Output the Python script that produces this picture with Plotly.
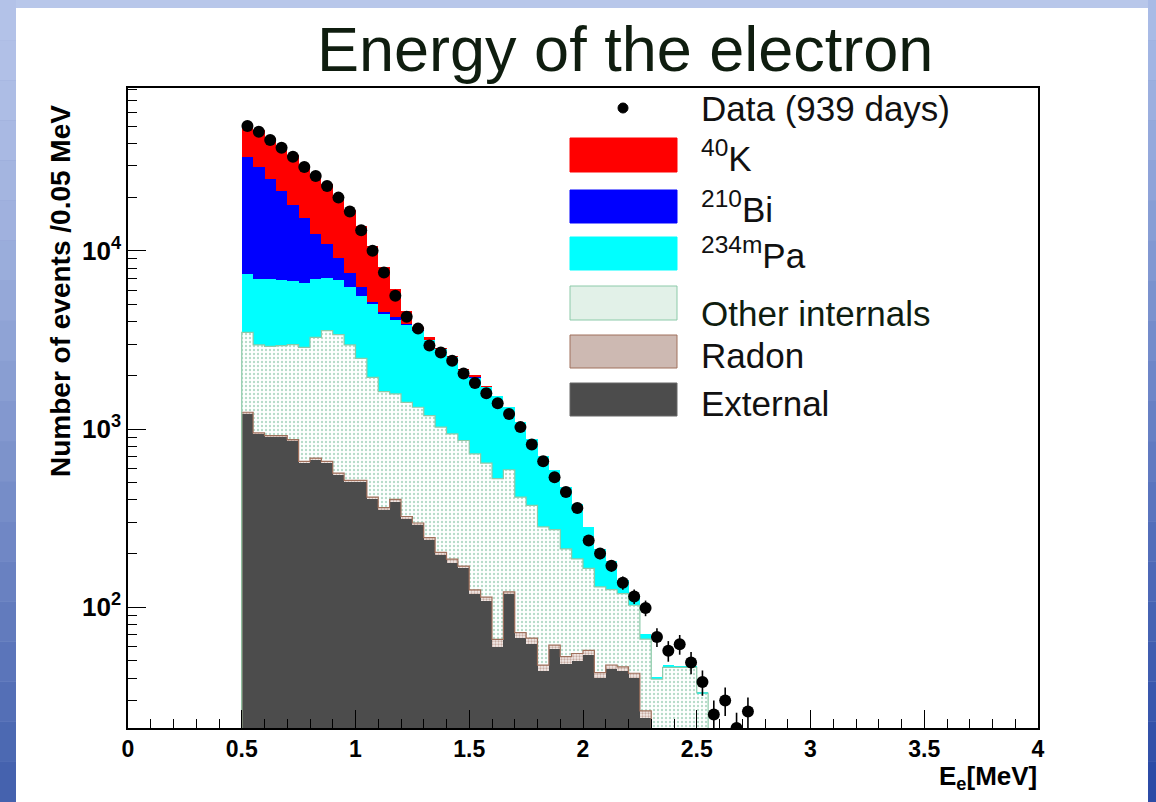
import numpy as np
import plotly.graph_objects as go

# ---------------- data ----------------
bin_low = 0.5
bin_width = 0.05
n_bins = 45

data_counts = [50150, 46600, 41850, 37900, 33760, 29550, 26320, 23130, 19890, 16610,
               13060, 10000, 7560, 5600, 4270, 3660, 2940, 2690, 2420, 2050,
               1810, 1590, 1395, 1215, 1025, 820, 660, 537, 443, 360,
               237, 200, 171, 137, 115, 99, 68, 57, 62, 49,
               38, 25, 30, 21, 26]

external = [1226, 940, 908, 908, 862, 649, 678, 649, 555, 505,
            505, 404, 353, 393, 315, 289, 238, 196, 178, 166,
            118, 108, 60, 118, 67, 62, 44, 58, 48, 50,
            54, 40, 45, 44, 40, 24, 15, 12, 10, 8,
            6, 4, 4, 3, 3]

radon = [16, 12, 11, 11, 11, 9, 8, 9, 10, 10,
         10, 11, 9, 10, 8, 8, 8, 7, 8, 4,
         7, 6, 6, 4, 5, 5, 3.3, 3.3, 4.8, 5,
         3.3, 3, 2.4, 2.3, 2.6, 2.2, 1.5, 1, 1, 1,
         1, 0.5, 0.5, 0.5, 0.5]

other_internals = [2244, 2011, 1991, 2018, 2101, 2215, 2582, 2905, 2819, 2448,
                   1977, 1536, 1261, 1172, 1090, 1028, 944, 821, 754, 692,
                   601, 529, 461, 469, 343, 306, 235, 211, 160, 132,
                   108, 87, 78, 73, 60, 40, 23, 33, 35, 37,
                   26, 9, 9, 8, 8]

pa234m = [3918, 4004, 4031, 3941, 3816, 3702, 3673, 3522, 3494, 3297,
          3103, 3098, 2854, 2569, 2436, 2238, 1971, 1790, 1608, 1284,
          1225, 1087, 1015, 734, 677, 508, 428, 313, 259, 194,
          117, 83, 56, 22, 14, 4.6, 1.2, 1.3, 0.3, 0.3,
          0.2, 0, 0, 0, 0]

bi210 = [26356, 22583, 18279, 14812, 11310, 8675, 5559, 3815, 2295, 1296,
         634, 85, 75, 97, 20, 15, 10, 5, 3, 3,
         3, 2, 0, 0, 0, 0, 0, 0, 0, 0,
         0, 0, 0, 0, 0, 0, 0, 0, 0, 0,
         0, 0, 0, 0, 0]

k40 = [17700, 18260, 17750, 17200, 16530, 15070, 14500, 12840, 11230, 9484,
       7581, 5536, 3583, 1883, 742, 173, 106, 5, 3, 3,
       66, 2, 0, 0, 0, 0, 0, 0, 0, 0,
       0, 0, 0, 0, 0, 0, 0, 0, 0, 0,
       0, 0, 0, 0, 0]

x_ticks = [0, 0.5, 1, 1.5, 2, 2.5, 3, 3.5, 4]
x_ticktext = ["0", "0.5", "1", "1.5", "2", "2.5", "3", "3.5", "4"]
y_ticks = [100, 1000, 10000]
y_ticktext = ["10<sup>2</sup>", "10<sup>3</sup>", "10<sup>4</sup>"]

legend_labels = ["Data (939 days)", "<sup>40</sup>K", "<sup>210</sup>Bi",
                 "<sup>234m</sup>Pa", "Other internals", "Radon", "External"]

# ---------------- derived binning ----------------
edges = bin_low + bin_width * np.arange(n_bins + 1)
centers = 0.5 * (edges[:-1] + edges[1:])
err = np.sqrt(np.array(data_counts, dtype=float))

# ---------------- geometry helpers (pixels -> paper) ----------------
W, H = 1156, 802
L, R, T, B = 128, 1038, 88, 728


def px(x):
    return (x - L) / (R - L)


def py(y):
    return (B - y) / (B - T)


fig = go.Figure()

RED, BLUE, CYAN, DARK = "#ff0000", "#0000ff", "#00ffff", "#4c4c4c"
OTHER_LINE, RADON_LINE = "#8ccaa9", "#a0705c"

stack = [
    ("External", external, dict(color=DARK, line=dict(width=0))),
    ("Radon", radon, dict(color="#efe6e2", line=dict(width=0),
                          pattern=dict(shape=".", fgcolor="#9c6c5c", bgcolor="#f3ece9",
                                       size=3, solidity=0.45))),
    ("Other internals", other_internals,
     dict(color="white", line=dict(width=0),
          pattern=dict(shape=".", fgcolor="#6cb894", bgcolor="white", size=4, solidity=0.28))),
    ("234mPa", pa234m, dict(color=CYAN, line=dict(width=0))),
    ("210Bi", bi210, dict(color=BLUE, line=dict(width=0))),
    ("40K", k40, dict(color=RED, line=dict(width=0))),
]
for name, vals, mk in stack:
    fig.add_trace(go.Bar(x=centers, y=vals, width=bin_width, marker=mk, name=name,
                         showlegend=False, hoverinfo="skip"))

# step outlines (ROOT histogram lines)
cum_r = np.array(external, float) + np.array(radon, float)
cum_o = cum_r + np.array(other_internals, float)
for cum, col in [(cum_r, RADON_LINE), (cum_o, OTHER_LINE)]:
    xs = [edges[0]] + list(edges)
    ys = [1.0] + list(cum) + [cum[-1]]
    fig.add_trace(go.Scatter(x=xs, y=ys, mode="lines", line=dict(color=col, width=1.2, shape="hv"),
                             showlegend=False, hoverinfo="skip"))

# data points
fig.add_trace(go.Scatter(x=centers, y=data_counts, mode="markers",
                         marker=dict(size=12, color="black"),
                         error_y=dict(type="data", array=err, color="black", thickness=1.6, width=0),
                         showlegend=False, hoverinfo="skip"))

xtickfont = dict(family="Liberation Sans, Arial", size=23, color="black", weight="bold")
ytickfont = dict(family="Liberation Sans, Arial", size=26, color="black", weight="bold")

fig.update_layout(
    width=W, height=H, autosize=False,
    margin=dict(l=L, r=W - R, t=T, b=H - B, pad=0),
    paper_bgcolor="#8ea1d3", plot_bgcolor="white",
    barmode="stack", bargap=0, showlegend=False,
    xaxis=dict(range=[0, 4], tickvals=x_ticks, ticktext=x_ticktext, ticks="inside",
               ticklen=18, tickwidth=1.3, tickcolor="black", showgrid=False, zeroline=False,
               showline=True, linecolor="black", linewidth=1.5, mirror=True,
               tickfont=xtickfont,
               minor=dict(dtick=0.1, tick0=0, ticks="inside", ticklen=9, tickwidth=1.3,
                          tickcolor="black", showgrid=False)),
    yaxis=dict(type="log", range=[np.log10(21), np.log10(82000)], tickvals=y_ticks,
               ticktext=y_ticktext, ticks="inside", ticklen=18, tickwidth=1.3, tickcolor="black",
               showgrid=False, zeroline=False, showline=True, linecolor="black", linewidth=1.5,
               mirror=True, tickfont=ytickfont,
               minor=dict(tickmode="array",
                          tickvals=[30, 40, 50, 60, 70, 80, 90,
                                    200, 300, 400, 500, 600, 700, 800, 900,
                                    2000, 3000, 4000, 5000, 6000, 7000, 8000, 9000,
                                    20000, 30000, 40000, 50000, 60000, 70000, 80000],
                          ticks="inside", ticklen=9, tickwidth=1.3, tickcolor="black", showgrid=False)),
)

# ---------------- slide background ----------------
shapes = []


def hexmix(c1, c2, t):
    a = [int(c1[i:i + 2], 16) for i in (1, 3, 5)]
    b = [int(c2[i:i + 2], 16) for i in (1, 3, 5)]
    return "#%02x%02x%02x" % tuple(int(round(a[k] + (b[k] - a[k]) * t)) for k in range(3))


shapes.append(dict(type="rect", xref="paper", yref="paper", x0=px(-5), x1=px(W + 5),
                   y0=py(8), y1=py(-5), fillcolor="#b8c7ea", line=dict(width=0), layer="below"))
nb = 20
for i in range(nb):
    y0, y1 = i * H / nb, (i + 1) * H / nb
    t = i / (nb - 1)
    shapes.append(dict(type="rect", xref="paper", yref="paper", x0=px(-5), x1=px(16),
                       y0=py(y1), y1=py(y0), fillcolor=hexmix("#b3c2e8", "#4562ae", t ** 1.3),
                       line=dict(width=0), layer="below"))
    shapes.append(dict(type="rect", xref="paper", yref="paper", x0=px(1148), x1=px(W + 5),
                       y0=py(y1), y1=py(y0), fillcolor=hexmix("#a9bbe6", "#2c4ba6", t),
                       line=dict(width=0), layer="below"))
shapes.append(dict(type="rect", xref="paper", yref="paper", x0=px(16), x1=px(1148),
                   y0=py(H + 5), y1=py(8), fillcolor="white", line=dict(width=0), layer="below"))

# ---------------- legend ----------------
sw_x0, sw_x1 = 570, 677
swatches = [
    (138, 172, RED, RED),
    (190, 223, BLUE, BLUE),
    (237, 270, CYAN, CYAN),
    (286, 320, "#e2f1e8", OTHER_LINE),
    (335, 368, "#cdb9b2", RADON_LINE),
    (383, 416, DARK, "#666666"),
]
for y0, y1, fc, lc in swatches:
    shapes.append(dict(type="rect", xref="paper", yref="paper", x0=px(sw_x0), x1=px(sw_x1),
                       y0=py(y1), y1=py(y0), fillcolor=fc, line=dict(color=lc, width=1)))
shapes.append(dict(type="circle", xref="paper", yref="paper", x0=px(618), x1=px(628),
                   y0=py(113), y1=py(103), fillcolor="black", line=dict(color="black", width=1)))
fig.update_layout(shapes=shapes)

leg_y = [108, 156, 207, 253, 313, 355, 403]
annotations = []
for lab, yy in zip(legend_labels, leg_y):
    col = "#0f1d0f" if lab == "Other internals" else "#111111"
    annotations.append(dict(text=lab, x=px(699), y=py(yy), xref="paper", yref="paper",
                            xanchor="left", yanchor="middle", showarrow=False,
                            font=dict(family="Liberation Sans, Arial", size=35, color=col)))

annotations.append(dict(text="Energy of the electron", x=px(625), y=py(49), xref="paper", yref="paper",
                        xanchor="center", yanchor="middle", showarrow=False,
                        font=dict(family="Liberation Sans, Arial", size=63, color="#0f1d0f")))
annotations.append(dict(text="Number of events /0.05 MeV", x=px(60), y=py(291), xref="paper",
                        yref="paper", xanchor="center", yanchor="middle", textangle=-90,
                        showarrow=False,
                        font=dict(family="Liberation Sans, Arial", size=28, color="black",
                                  weight="bold")))
annotations.append(dict(text="E<sub>e</sub>[MeV]", x=px(1039), y=py(777), xref="paper", yref="paper",
                        xanchor="right", yanchor="middle", showarrow=False,
                        font=dict(family="Liberation Sans, Arial", size=26,
                                  color="black", weight="bold")))
fig.update_layout(annotations=annotations)

fig.write_html("out.html", config={"displayModeBar": False},
               post_script="document.body.style.margin='0';document.body.style.overflow='hidden';")
